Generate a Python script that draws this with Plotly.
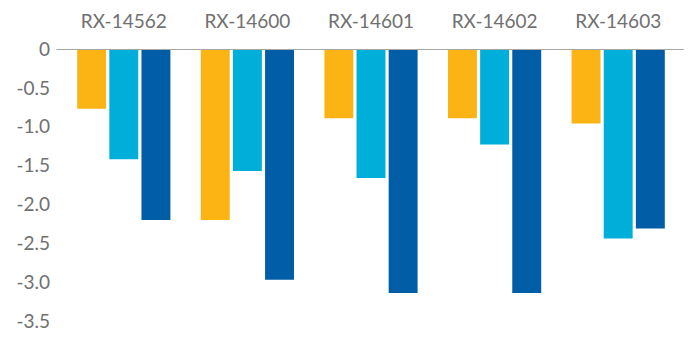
import plotly.graph_objects as go

categories = ["RX-14562", "RX-14600", "RX-14601", "RX-14602", "RX-14603"]
series_a = [-0.77, -2.20, -0.89, -0.89, -0.96]
series_b = [-1.42, -1.57, -1.66, -1.23, -2.44]
series_c = [-2.20, -2.97, -3.14, -3.14, -2.31]
tick_vals = [0, -0.5, -1.0, -1.5, -2.0, -2.5, -3.0, -3.5]
tick_text = ["0", "-0.5", "-1.0", "-1.5", "-2.0", "-2.5", "-3.0", "-3.5"]

colors = ["#FCB415", "#00AEDA", "#005DA6"]

fig = go.Figure()
for name, vals, col in zip(["A", "B", "C"], [series_a, series_b, series_c], colors):
    fig.add_trace(go.Bar(x=categories, y=vals, name=name, marker_color=col,
                         marker_line_width=0))

# horizontal zero axis line, slightly wider than the bar area
fig.add_shape(type="line", xref="paper", yref="y", x0=-0.009, x1=1.006, y0=0, y1=0,
              line=dict(color="#A6A6A6", width=2), layer="above")

fig.update_layout(
    width=689, height=341,
    margin=dict(l=62, r=9, t=49, b=12),
    plot_bgcolor="white", paper_bgcolor="white",
    barmode="group", bargap=0.22, bargroupgap=0.1,
    showlegend=False,
    font=dict(family="Lato", color="#707070", size=18, weight=400),
)
fig.update_xaxes(side="top", showline=False, ticks="", showgrid=False,
                 tickfont=dict(size=19), ticklabelstandoff=16)
fig.update_yaxes(range=[-3.5, 0], tickvals=tick_vals, ticktext=tick_text,
                 showgrid=False, zeroline=False, showline=False, ticks="",
                 ticklabelstandoff=11, tickfont=dict(size=19))

fig.write_html("out.html")
